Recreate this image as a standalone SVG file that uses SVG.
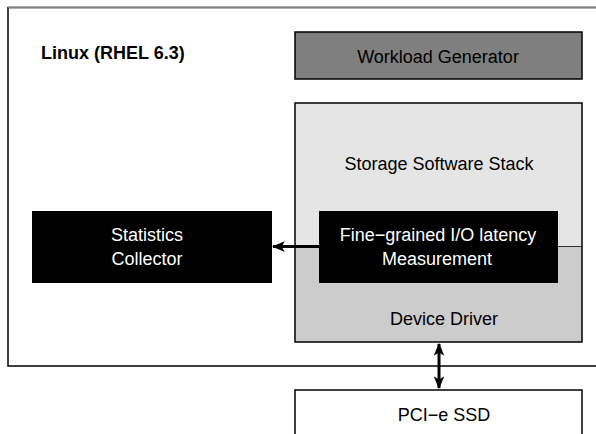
<svg xmlns="http://www.w3.org/2000/svg" width="596" height="434" viewBox="0 0 596 434">
<defs>
<style>
text{font-family:"Liberation Sans",Arial,sans-serif;font-size:18px;text-anchor:middle;fill:#000}
.w{fill:#fff}
.b{font-weight:bold;text-anchor:start}
.box{stroke:#000;stroke-width:1.5}
.conn{stroke:#000;stroke-width:3;fill:none}
</style>
<marker id="ah" viewBox="0 0 12 10" refX="11" refY="5" markerWidth="4.3" markerHeight="3.6" orient="auto-start-reverse" markerUnits="strokeWidth">
<path d="M0,0 L12,5 L0,10 L3,5 Z" fill="#000"/>
</marker>
</defs>
<rect width="596" height="434" fill="#fff"/>
<g id="linux">
<rect x="8" y="7.5" width="600" height="358.5" fill="#fff" class="box"/>
<line x1="8" y1="7.5" x2="596" y2="7.5" stroke="#7f7f7f" stroke-width="1.5"/>
<text x="41" y="59" class="b">Linux (RHEL 6.3)</text>
</g>
<g id="workload">
<rect x="295" y="32" width="287" height="47" fill="#7f7f7f" class="box"/>
<text x="438" y="63">Workload Generator</text>
</g>
<g id="stack">
<rect x="295" y="103" width="287" height="143.5" fill="#e5e5e5"/>
<rect x="295" y="246.5" width="287" height="95.5" fill="#cccccc"/>
<line x1="295" y1="246.5" x2="582" y2="246.5" stroke="#333" stroke-width="1"/>
<rect x="295" y="103" width="287" height="239" fill="none" class="box"/>
<text x="439" y="170">Storage Software Stack</text>
<text x="444" y="325">Device Driver</text>
</g>
<g id="measurement">
<rect x="319" y="211" width="239" height="72" fill="#000"/>
<text x="438" y="241" class="w">Fine−grained I/O latency</text>
<text x="437" y="265" class="w">Measurement</text>
</g>
<g id="stats">
<rect x="32" y="211" width="240" height="72" fill="#000"/>
<text x="147" y="241" class="w">Statistics</text>
<text x="147" y="265" class="w">Collector</text>
</g>
<g id="ssd">
<rect x="295" y="390" width="287" height="60" fill="#fff" class="box"/>
<text x="444" y="421">PCI−e SSD</text>
</g>
<g id="connectors">
<line x1="319" y1="246.5" x2="273" y2="246.5" class="conn" marker-end="url(#ah)"/>
<line x1="439" y1="344" x2="439" y2="388" class="conn" marker-start="url(#ah)" marker-end="url(#ah)"/>
</g>
</svg>
